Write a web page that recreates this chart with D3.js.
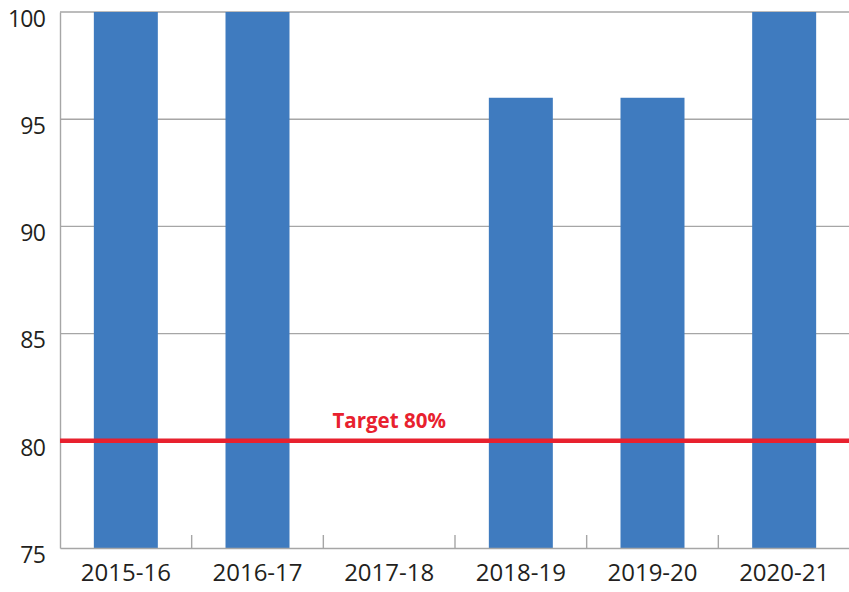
<!DOCTYPE html>
<html>
<head>
<meta charset="utf-8">
<script src="https://cdn.jsdelivr.net/npm/d3@7"></script>
<style>
  body { margin: 0; background: #fff; }
  svg { display: block; font-family: "Open Sans", sans-serif; }
</style>
</head>
<body>
<div id="chart"></div>
<script>
// données
const years = ['2015-16', '2016-17', '2017-18', '2018-19', '2019-20', '2020-21'];
const values = [100, 100, null, 96, 96, 100];
const yTicks = [75, 80, 85, 90, 95, 100];
const target = 80;
const targetLabel = 'Target 80%';

const W = 849, H = 592;
const plot = {left: 60, right: 850, top: 12, bottom: 548};
const barColor = '#3f7bbf';
const red = '#e8212e';
const grey = '#a6a6a6';

const svg = d3.select('#chart').append('svg')
  .attr('width', W).attr('height', H);

// échelles
const x = d3.scaleBand().domain(years).range([plot.left, plot.right]).padding(0);
const barPad = 0.257; // marge de chaque côté de la barre, en fraction de la bande
const y = d3.scaleLinear().domain([75, 100]).range([plot.bottom, plot.top]);

// grille
svg.append('g').selectAll('line')
  .data(yTicks.filter(d => d > 75))
  .join('line')
    .attr('x1', plot.left).attr('x2', W)
    .attr('y1', d => y(d)).attr('y2', d => y(d))
    .attr('stroke', grey).attr('stroke-width', 1.4);

// barres
svg.append('g').selectAll('rect')
  .data(years.map((c, i) => ({c, v: values[i]})).filter(d => d.v != null))
  .join('rect')
    .attr('x', d => x(d.c) + x.bandwidth() * barPad)
    .attr('width', x.bandwidth() * (1 - 2 * barPad))
    .attr('y', d => y(d.v))
    .attr('height', d => y(75) - y(d.v))
    .attr('fill', barColor);

// axe Y
const yAxis = svg.append('g')
  .attr('transform', `translate(${plot.left},0)`)
  .call(d3.axisLeft(y).tickValues(yTicks).tickSize(0).tickPadding(15));
yAxis.select('.domain').attr('stroke', grey).attr('stroke-width', 1.4);
yAxis.selectAll('text')
  .attr('dy', '0.62em')
  .style('font-size', '23px')
  .style('font-family', '"Open Sans", sans-serif')
  .attr('letter-spacing', '-0.8px')
  .attr('fill', '#231f20');

// axe X
const xAxis = svg.append('g')
  .attr('transform', `translate(0,${plot.bottom})`)
  .call(d3.axisBottom(x).tickSize(0).tickPadding(16));
xAxis.select('.domain').attr('stroke', grey).attr('stroke-width', 1.4);
xAxis.selectAll('text')
  .style('font-size', '24px')
  .style('font-family', '"Open Sans", sans-serif')
  .attr('fill', '#231f20');

// petites graduations entre catégories
svg.append('g').selectAll('line')
  .data(years.slice(1))
  .join('line')
    .attr('x1', d => x(d)).attr('x2', d => x(d))
    .attr('y1', plot.bottom).attr('y2', plot.bottom - 13)
    .attr('stroke', grey).attr('stroke-width', 1.4);

// ligne cible
svg.append('line')
  .attr('x1', plot.left).attr('x2', W)
  .attr('y1', y(target)).attr('y2', y(target))
  .attr('stroke', red).attr('stroke-width', 4.5);

svg.append('text')
  .attr('x', x('2017-18') + x.bandwidth() / 2)
  .attr('y', y(target) - 13)
  .attr('text-anchor', 'middle')
  .style('font-size', '20.5px')
  .style('font-weight', 'bold')
  .attr('fill', red)
  .text(targetLabel);
</script>
</body>
</html>
